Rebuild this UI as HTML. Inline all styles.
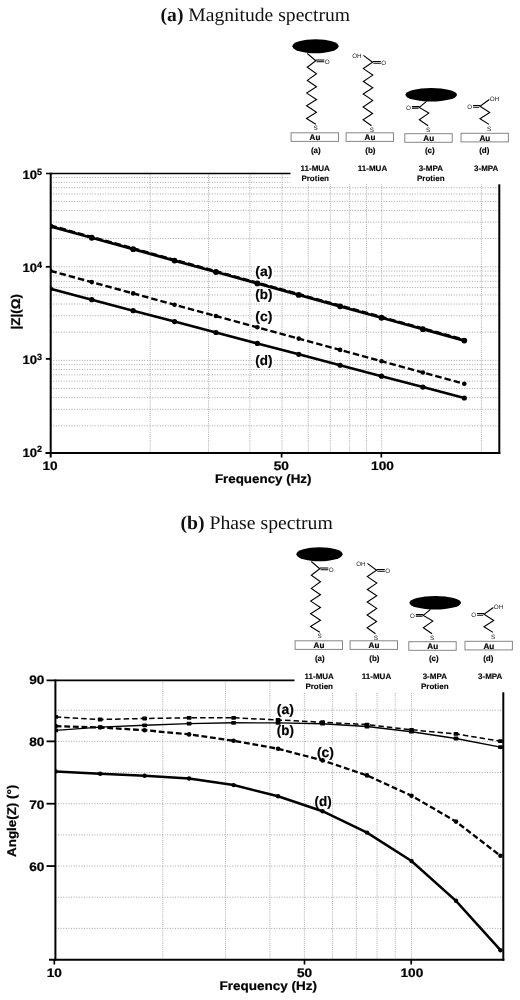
<!DOCTYPE html>
<html lang="en"><head><meta charset="utf-8"><title>Impedance spectra</title>
<style>html,body{margin:0;padding:0;background:#fff}body{width:520px;height:1000px;overflow:hidden}svg{display:block}text{font-family:"Liberation Sans",Arial,sans-serif;text-rendering:geometricPrecision}.t{font-family:"Liberation Serif","Times New Roman",serif}</style>
</head><body>
<svg width="520" height="1000" viewBox="0 0 520 1000">
<rect width="520" height="1000" fill="#fff"/>
<text class="t" x="160.6" y="21.2" font-size="19.3" fill="#111" textLength="189.5" lengthAdjust="spacingAndGlyphs"><tspan font-weight="bold">(a)</tspan> Magnitude spectrum</text>
<text class="t" x="180.5" y="529.2" font-size="19.3" fill="#111" textLength="152.3" lengthAdjust="spacingAndGlyphs"><tspan font-weight="bold">(b)</tspan> Phase spectrum</text>
<g stroke="#a8a8a8" stroke-width="1" stroke-dasharray="1 1.6" fill="none">
<line x1="50.70" y1="425.80" x2="499.30" y2="425.80"/>
<line x1="50.70" y1="409.32" x2="499.30" y2="409.32"/>
<line x1="50.70" y1="397.62" x2="499.30" y2="397.62"/>
<line x1="50.70" y1="388.55" x2="499.30" y2="388.55"/>
<line x1="50.70" y1="381.14" x2="499.30" y2="381.14"/>
<line x1="50.70" y1="374.88" x2="499.30" y2="374.88"/>
<line x1="50.70" y1="369.45" x2="499.30" y2="369.45"/>
<line x1="50.70" y1="364.66" x2="499.30" y2="364.66"/>
<line x1="50.70" y1="360.38" x2="499.30" y2="360.38"/>
<line x1="50.70" y1="332.21" x2="499.30" y2="332.21"/>
<line x1="50.70" y1="315.73" x2="499.30" y2="315.73"/>
<line x1="50.70" y1="304.03" x2="499.30" y2="304.03"/>
<line x1="50.70" y1="294.96" x2="499.30" y2="294.96"/>
<line x1="50.70" y1="287.55" x2="499.30" y2="287.55"/>
<line x1="50.70" y1="281.29" x2="499.30" y2="281.29"/>
<line x1="50.70" y1="275.86" x2="499.30" y2="275.86"/>
<line x1="50.70" y1="271.07" x2="499.30" y2="271.07"/>
<line x1="50.70" y1="266.79" x2="499.30" y2="266.79"/>
<line x1="50.70" y1="238.62" x2="499.30" y2="238.62"/>
<line x1="50.70" y1="222.14" x2="499.30" y2="222.14"/>
<line x1="50.70" y1="210.44" x2="499.30" y2="210.44"/>
<line x1="50.70" y1="201.37" x2="499.30" y2="201.37"/>
<line x1="50.70" y1="193.96" x2="499.30" y2="193.96"/>
<line x1="50.70" y1="187.70" x2="499.30" y2="187.70"/>
<line x1="50.70" y1="182.27" x2="499.30" y2="182.27"/>
<line x1="50.70" y1="177.48" x2="499.30" y2="177.48"/>
</g>
<g stroke="#aeaeae" stroke-width="1" stroke-dasharray="1 1.1" fill="none">
<line x1="150.20" y1="173.50" x2="150.20" y2="453.00"/>
<line x1="208.52" y1="173.50" x2="208.52" y2="453.00"/>
<line x1="249.90" y1="173.50" x2="249.90" y2="453.00"/>
<line x1="282.00" y1="173.50" x2="282.00" y2="453.00"/>
<line x1="308.22" y1="173.50" x2="308.22" y2="453.00"/>
<line x1="330.40" y1="173.50" x2="330.40" y2="453.00"/>
<line x1="349.60" y1="173.50" x2="349.60" y2="453.00"/>
<line x1="366.55" y1="173.50" x2="366.55" y2="453.00"/>
<line x1="381.70" y1="173.50" x2="381.70" y2="453.00"/>
<line x1="481.40" y1="173.50" x2="481.40" y2="453.00"/>
</g>
<rect x="254.8" y="264.6" width="18.2" height="14.4" fill="#fff"/>
<rect x="254.8" y="287.6" width="18.2" height="14.4" fill="#fff"/>
<rect x="254.8" y="309.5" width="18.2" height="14.4" fill="#fff"/>
<rect x="254.8" y="353.90000000000003" width="18.2" height="14.4" fill="#fff"/>
<clipPath id="c1"><rect x="50.7" y="173.5" width="448.6" height="279.5"/></clipPath><g clip-path="url(#c1)">
<polyline points="50.40,226.30 91.79,237.73 133.18,249.16 174.57,260.59 215.96,272.02 257.35,283.45 298.74,294.88 340.13,306.31 381.52,317.74 422.91,329.17 464.30,340.60" fill="none" stroke="#000" stroke-width="2.8"/>
<polyline points="50.40,225.50 91.79,236.93 133.18,248.36 174.57,259.79 215.96,271.22 257.35,282.65 298.74,294.08 340.13,305.51 381.52,316.94 422.91,328.37 464.30,339.80" fill="none" stroke="#000" stroke-width="2.4" stroke-dasharray="6.5 3"/>
<polyline points="50.40,270.80 91.79,282.10 133.18,293.40 174.57,304.70 215.96,316.00 257.35,327.30 298.74,338.60 340.13,349.90 381.52,361.20 422.91,372.50 464.30,383.80" fill="none" stroke="#000" stroke-width="2.4" stroke-dasharray="6.5 3"/>
<polyline points="50.40,288.80 91.79,299.72 133.18,310.64 174.57,321.56 215.96,332.48 257.35,343.40 298.74,354.32 340.13,365.24 381.52,376.16 422.91,387.08 464.30,398.00" fill="none" stroke="#000" stroke-width="2.6"/>
<circle cx="50.40" cy="226.30" r="2.9"/>
<circle cx="50.40" cy="270.80" r="2.3"/>
<circle cx="50.40" cy="288.80" r="2.6"/>
<circle cx="91.79" cy="237.73" r="2.9"/>
<circle cx="91.79" cy="282.10" r="2.3"/>
<circle cx="91.79" cy="299.72" r="2.6"/>
<circle cx="133.18" cy="249.16" r="2.9"/>
<circle cx="133.18" cy="293.40" r="2.3"/>
<circle cx="133.18" cy="310.64" r="2.6"/>
<circle cx="174.57" cy="260.59" r="2.9"/>
<circle cx="174.57" cy="304.70" r="2.3"/>
<circle cx="174.57" cy="321.56" r="2.6"/>
<circle cx="215.96" cy="272.02" r="2.9"/>
<circle cx="215.96" cy="316.00" r="2.3"/>
<circle cx="215.96" cy="332.48" r="2.6"/>
<circle cx="257.35" cy="283.45" r="2.9"/>
<circle cx="257.35" cy="327.30" r="2.3"/>
<circle cx="257.35" cy="343.40" r="2.6"/>
<circle cx="298.74" cy="294.88" r="2.9"/>
<circle cx="298.74" cy="338.60" r="2.3"/>
<circle cx="298.74" cy="354.32" r="2.6"/>
<circle cx="340.13" cy="306.31" r="2.9"/>
<circle cx="340.13" cy="349.90" r="2.3"/>
<circle cx="340.13" cy="365.24" r="2.6"/>
<circle cx="381.52" cy="317.74" r="2.9"/>
<circle cx="381.52" cy="361.20" r="2.3"/>
<circle cx="381.52" cy="376.16" r="2.6"/>
<circle cx="422.91" cy="329.17" r="2.9"/>
<circle cx="422.91" cy="372.50" r="2.3"/>
<circle cx="422.91" cy="387.08" r="2.6"/>
<circle cx="464.30" cy="340.60" r="2.9"/>
<circle cx="464.30" cy="383.80" r="2.3"/>
<circle cx="464.30" cy="398.00" r="2.6"/>
</g>
<g stroke="#000" fill="none">
<line x1="50.7" y1="172.65" x2="50.7" y2="457.5" stroke-width="2"/>
<line x1="499.3" y1="173.5" x2="499.3" y2="454.0" stroke-width="2"/>
<line x1="46" y1="173.5" x2="499.3" y2="173.5" stroke-width="1.7"/>
<line x1="45.5" y1="453.0" x2="500.3" y2="453.0" stroke-width="2"/>
<line x1="45.8" y1="358.90" x2="50.7" y2="358.90" stroke-width="1.8"/>
<line x1="45.8" y1="266.80" x2="50.7" y2="266.80" stroke-width="1.8"/>
<line x1="281.60" y1="453.0" x2="281.60" y2="457.5" stroke-width="1.7"/>
<line x1="381.30" y1="453.0" x2="381.30" y2="457.5" stroke-width="1.7"/>
</g>
<g transform="translate(0,0)">
<rect x="290.5" y="26" width="240" height="158.3" fill="#fff"/>
<ellipse cx="315.5" cy="46.2" rx="23.1" ry="7" fill="#000"/>
<ellipse cx="431.2" cy="94.8" rx="25.8" ry="6.8" fill="#000"/>
<g fill="none" stroke="#000" stroke-width="1.1" stroke-linejoin="miter" stroke-linecap="butt">
<polyline points="307.3,53.5 315.8,60.8 307.3,67.2 316.5,73.8 307.3,80.4 316.5,86.8 306.7,93.1 316.5,99.5 306.6,105.8 316.5,112.3 306.5,118.5 315.8,124.3"/>
<path d="M315.8 60 H324.3 M316.6 61.7 H324.3"/>
<polyline points="363.4,55.4 372.6,62.3 363.3,68.6 372.8,75.1 363.3,81.5 372.8,87.8 363.2,94 372.7,100.4 363.1,107 372.6,113.5 363.1,119.7 371.5,125.8"/>
<path d="M372.6 61.5 H380.8 M373.4 63.2 H380.8"/>
<polyline points="426.5,101.3 419.3,107.4 428.8,113.1 419.3,119.7 428.1,125.7"/>
<path d="M419.3 106.6 H411.9 M418.5 108.3 H411.9"/>
<polyline points="489.4,99.5 480,106.3 489.7,112.5 480,118.7 489,124.4"/>
<path d="M480 105.5 H473.1 M479.2 107.2 H473.1"/>
</g>
<g font-weight="normal" font-size="6.3" fill="#222" text-anchor="middle">
<text x="327.1" y="63.7">O</text>
<text x="315.6" y="130.1">S</text>
<text x="356.9" y="58.2">OH</text>
<text x="383.6" y="64.9">O</text>
<text x="371.8" y="131.6">S</text>
<text x="408.5" y="109.7">O</text>
<text x="428.1" y="131.8">S</text>
<text x="494.6" y="100.9">OH</text>
<text x="469.6" y="108.7">O</text>
<text x="489" y="131.1">S</text>
</g>
<rect x="291.1" y="132.8" width="47.4" height="8.6" fill="#fff" stroke="#858585" stroke-width="1"/>
<text x="315.0" y="140.0" font-size="8.1" font-weight="bold" text-anchor="middle" stroke="#000" stroke-width="0.2">Au</text>
<rect x="346.1" y="132.8" width="47.4" height="8.6" fill="#fff" stroke="#858585" stroke-width="1"/>
<text x="370.0" y="140.0" font-size="8.1" font-weight="bold" text-anchor="middle" stroke="#000" stroke-width="0.2">Au</text>
<rect x="404.8" y="133.7" width="47.4" height="8.6" fill="#fff" stroke="#858585" stroke-width="1"/>
<text x="428.7" y="140.89999999999998" font-size="8.1" font-weight="bold" text-anchor="middle" stroke="#000" stroke-width="0.2">Au</text>
<rect x="461.0" y="133.3" width="47.4" height="8.6" fill="#fff" stroke="#858585" stroke-width="1"/>
<text x="484.9" y="140.5" font-size="8.1" font-weight="bold" text-anchor="middle" stroke="#000" stroke-width="0.2">Au</text>
<text x="315.8" y="153.1" font-size="8" font-weight="bold" text-anchor="middle" stroke="#000" stroke-width="0.15">(a)</text>
<text x="370.4" y="153.1" font-size="8" font-weight="bold" text-anchor="middle" stroke="#000" stroke-width="0.15">(b)</text>
<text x="429.8" y="153.1" font-size="8" font-weight="bold" text-anchor="middle" stroke="#000" stroke-width="0.15">(c)</text>
<text x="484.3" y="153.1" font-size="8" font-weight="bold" text-anchor="middle" stroke="#000" stroke-width="0.15">(d)</text>
<text x="315.2" y="171.1" font-size="8" font-weight="bold" text-anchor="middle" stroke="#000" stroke-width="0.12">11-MUA</text>
<text x="315.2" y="180.7" font-size="8" font-weight="bold" text-anchor="middle" stroke="#000" stroke-width="0.12">Protien</text>
<text x="372.5" y="171.1" font-size="8" font-weight="bold" text-anchor="middle" stroke="#000" stroke-width="0.12">11-MUA</text>
<text x="430.8" y="171.1" font-size="8" font-weight="bold" text-anchor="middle" stroke="#000" stroke-width="0.12">3-MPA</text>
<text x="430.8" y="180.7" font-size="8" font-weight="bold" text-anchor="middle" stroke="#000" stroke-width="0.12">Protien</text>
<text x="486.2" y="171.1" font-size="8" font-weight="bold" text-anchor="middle" stroke="#000" stroke-width="0.12">3-MPA</text>
</g>
<text x="22.4" y="456.50" font-size="12.3" font-weight="bold" textLength="14.6" lengthAdjust="spacingAndGlyphs" stroke="#000" stroke-width="0.22">10</text>
<text x="37.0" y="452.40" font-size="9" font-weight="bold" stroke="#000" stroke-width="0.22">2</text>
<text x="22.4" y="363.70" font-size="12.3" font-weight="bold" textLength="14.6" lengthAdjust="spacingAndGlyphs" stroke="#000" stroke-width="0.22">10</text>
<text x="37.0" y="360.40" font-size="9" font-weight="bold" stroke="#000" stroke-width="0.22">3</text>
<text x="22.4" y="272.00" font-size="12.3" font-weight="bold" textLength="14.6" lengthAdjust="spacingAndGlyphs" stroke="#000" stroke-width="0.22">10</text>
<text x="37.0" y="268.40" font-size="9" font-weight="bold" stroke="#000" stroke-width="0.22">4</text>
<text x="22.4" y="178.80" font-size="12.3" font-weight="bold" textLength="14.6" lengthAdjust="spacingAndGlyphs" stroke="#000" stroke-width="0.22">10</text>
<text x="37.0" y="174.80" font-size="9" font-weight="bold" stroke="#000" stroke-width="0.22">5</text>
<text x="50.10" y="469.90" font-size="12.3" text-anchor="middle" font-weight="bold" fill="#000" textLength="15.2" lengthAdjust="spacingAndGlyphs" stroke="#000" stroke-width="0.22">10</text>
<text x="281.30" y="469.90" font-size="12.3" text-anchor="middle" font-weight="bold" fill="#000" textLength="15.2" lengthAdjust="spacingAndGlyphs" stroke="#000" stroke-width="0.22">50</text>
<text x="382.50" y="469.90" font-size="12.3" text-anchor="middle" font-weight="bold" fill="#000" textLength="22.8" lengthAdjust="spacingAndGlyphs" stroke="#000" stroke-width="0.22">100</text>
<text x="263.20" y="483.10" font-size="12.4" text-anchor="middle" font-weight="bold" fill="#000" textLength="96.6" lengthAdjust="spacingAndGlyphs" stroke="#000" stroke-width="0.22">Frequency (Hz)</text>
<text transform="translate(20.3,311.7) rotate(-90)" font-size="12.6" font-weight="bold" text-anchor="middle" textLength="35.6" lengthAdjust="spacingAndGlyphs" stroke="#000" stroke-width="0.22">|Z|(Ω)</text>
<text x="263.80" y="276.00" font-size="13.7" text-anchor="middle" font-weight="bold" fill="#000" textLength="17.1" lengthAdjust="spacingAndGlyphs" stroke="#000" stroke-width="0.2">(a)</text>
<text x="263.80" y="299.00" font-size="13.7" text-anchor="middle" font-weight="bold" fill="#000" textLength="17.1" lengthAdjust="spacingAndGlyphs" stroke="#000" stroke-width="0.2">(b)</text>
<text x="263.80" y="320.90" font-size="13.7" text-anchor="middle" font-weight="bold" fill="#000" textLength="17.1" lengthAdjust="spacingAndGlyphs" stroke="#000" stroke-width="0.2">(c)</text>
<text x="263.80" y="365.30" font-size="13.7" text-anchor="middle" font-weight="bold" fill="#000" textLength="17.1" lengthAdjust="spacingAndGlyphs" stroke="#000" stroke-width="0.2">(d)</text>
<g stroke="#a8a8a8" stroke-width="1" stroke-dasharray="1 1.6" fill="none">
<line x1="55.40" y1="928.39" x2="503.30" y2="928.39"/>
<line x1="55.40" y1="897.22" x2="503.30" y2="897.22"/>
<line x1="55.40" y1="866.05" x2="503.30" y2="866.05"/>
<line x1="55.40" y1="834.88" x2="503.30" y2="834.88"/>
<line x1="55.40" y1="803.71" x2="503.30" y2="803.71"/>
<line x1="55.40" y1="772.54" x2="503.30" y2="772.54"/>
<line x1="55.40" y1="741.37" x2="503.30" y2="741.37"/>
<line x1="55.40" y1="710.20" x2="503.30" y2="710.20"/>
</g>
<g stroke="#aeaeae" stroke-width="1" stroke-dasharray="1 1.1" fill="none">
<line x1="162.81" y1="680.40" x2="162.81" y2="959.70"/>
<line x1="225.46" y1="680.40" x2="225.46" y2="959.70"/>
<line x1="269.91" y1="680.40" x2="269.91" y2="959.70"/>
<line x1="304.39" y1="680.40" x2="304.39" y2="959.70"/>
<line x1="332.57" y1="680.40" x2="332.57" y2="959.70"/>
<line x1="356.39" y1="680.40" x2="356.39" y2="959.70"/>
<line x1="377.02" y1="680.40" x2="377.02" y2="959.70"/>
<line x1="395.22" y1="680.40" x2="395.22" y2="959.70"/>
<line x1="411.50" y1="680.40" x2="411.50" y2="959.70"/>
</g>
<rect x="276.29999999999995" y="703.0" width="18.2" height="14.2" fill="#fff"/>
<rect x="276.29999999999995" y="723.2" width="18.2" height="14.2" fill="#fff"/>
<rect x="316.4" y="745.6" width="18.2" height="14.2" fill="#fff"/>
<rect x="314.0" y="794.6" width="18.2" height="14.2" fill="#fff"/>
<clipPath id="c2"><rect x="55.4" y="680.4" width="448.90000000000003" height="279.30000000000007"/></clipPath><g clip-path="url(#c2)">
<polyline points="55.70,716.90 100.18,719.50 144.65,718.50 189.12,717.80 233.60,717.80 278.07,720.00 322.55,722.20 367.02,724.60 411.50,729.80 455.98,733.90 500.45,741.20" fill="none" stroke="#000" stroke-width="1.5" stroke-dasharray="5.5 3"/>
<polyline points="55.70,730.40 100.18,727.10 144.65,725.30 189.12,723.60 233.60,722.80 278.07,722.90 322.55,723.70 367.02,726.50 411.50,731.70 455.98,738.50 500.45,747.10" fill="none" stroke="#000" stroke-width="1.4"/>
<polyline points="55.70,726.10 100.18,727.50 144.65,730.20 189.12,734.40 233.60,740.70 278.07,748.80 322.55,760.40 367.02,775.40 411.50,795.70 455.98,821.60 500.45,855.80" fill="none" stroke="#000" stroke-width="2.3" stroke-dasharray="5.8 2.8"/>
<polyline points="55.70,771.40 100.18,773.80 144.65,775.70 189.12,778.50 233.60,785.10 278.07,796.20 322.55,811.20 367.02,832.60 411.50,861.00 455.98,900.80 500.45,950.20" fill="none" stroke="#000" stroke-width="2.5"/>
<rect x="53.30" y="715.00" width="4.8" height="3.8" rx="0.9"/>
<rect x="53.30" y="728.50" width="4.8" height="3.8" rx="0.9"/>
<circle cx="55.70" cy="726.10" r="2.3"/>
<circle cx="55.70" cy="771.40" r="2.2"/>
<rect x="97.78" y="717.60" width="4.8" height="3.8" rx="0.9"/>
<rect x="97.78" y="725.20" width="4.8" height="3.8" rx="0.9"/>
<circle cx="100.18" cy="727.50" r="2.3"/>
<circle cx="100.18" cy="773.80" r="2.2"/>
<rect x="142.25" y="716.60" width="4.8" height="3.8" rx="0.9"/>
<rect x="142.25" y="723.40" width="4.8" height="3.8" rx="0.9"/>
<circle cx="144.65" cy="730.20" r="2.3"/>
<circle cx="144.65" cy="775.70" r="2.2"/>
<rect x="186.72" y="715.90" width="4.8" height="3.8" rx="0.9"/>
<rect x="186.72" y="721.70" width="4.8" height="3.8" rx="0.9"/>
<circle cx="189.12" cy="734.40" r="2.3"/>
<circle cx="189.12" cy="778.50" r="2.2"/>
<rect x="231.20" y="715.90" width="4.8" height="3.8" rx="0.9"/>
<rect x="231.20" y="720.90" width="4.8" height="3.8" rx="0.9"/>
<circle cx="233.60" cy="740.70" r="2.3"/>
<circle cx="233.60" cy="785.10" r="2.2"/>
<rect x="275.68" y="718.10" width="4.8" height="3.8" rx="0.9"/>
<rect x="275.68" y="721.00" width="4.8" height="3.8" rx="0.9"/>
<circle cx="278.07" cy="748.80" r="2.3"/>
<circle cx="278.07" cy="796.20" r="2.2"/>
<rect x="320.15" y="720.30" width="4.8" height="3.8" rx="0.9"/>
<rect x="320.15" y="721.80" width="4.8" height="3.8" rx="0.9"/>
<circle cx="322.55" cy="760.40" r="2.3"/>
<circle cx="322.55" cy="811.20" r="2.2"/>
<rect x="364.62" y="722.70" width="4.8" height="3.8" rx="0.9"/>
<rect x="364.62" y="724.60" width="4.8" height="3.8" rx="0.9"/>
<circle cx="367.02" cy="775.40" r="2.3"/>
<circle cx="367.02" cy="832.60" r="2.2"/>
<rect x="409.10" y="727.90" width="4.8" height="3.8" rx="0.9"/>
<rect x="409.10" y="729.80" width="4.8" height="3.8" rx="0.9"/>
<circle cx="411.50" cy="795.70" r="2.3"/>
<circle cx="411.50" cy="861.00" r="2.2"/>
<rect x="453.58" y="732.00" width="4.8" height="3.8" rx="0.9"/>
<rect x="453.58" y="736.60" width="4.8" height="3.8" rx="0.9"/>
<circle cx="455.98" cy="821.60" r="2.3"/>
<circle cx="455.98" cy="900.80" r="2.2"/>
<rect x="498.05" y="739.30" width="4.8" height="3.8" rx="0.9"/>
<rect x="498.05" y="745.20" width="4.8" height="3.8" rx="0.9"/>
<circle cx="500.45" cy="855.80" r="2.3"/>
<circle cx="500.45" cy="950.20" r="2.2"/>
</g>
<g stroke="#000" fill="none">
<line x1="55.4" y1="679.5" x2="55.4" y2="960.7" stroke-width="2"/>
<line x1="503.3" y1="680.4" x2="503.3" y2="960.7" stroke-width="2"/>
<line x1="46.5" y1="680.4" x2="503.3" y2="680.4" stroke-width="1.8"/>
<line x1="49" y1="959.7" x2="504.3" y2="959.7" stroke-width="2"/>
<line x1="46.5" y1="866.05" x2="55.4" y2="866.05" stroke-width="1.8"/>
<line x1="46.5" y1="803.71" x2="55.4" y2="803.71" stroke-width="1.8"/>
<line x1="46.5" y1="741.37" x2="55.4" y2="741.37" stroke-width="1.8"/>
<line x1="54.30" y1="959.7" x2="54.30" y2="964.5" stroke-width="1.7"/>
<line x1="304.50" y1="959.7" x2="304.50" y2="964.5" stroke-width="1.7"/>
<line x1="411.20" y1="959.7" x2="411.20" y2="964.5" stroke-width="1.7"/>
</g>
<g transform="translate(4,508)">
<rect x="290.5" y="26" width="240" height="158.3" fill="#fff"/>
<ellipse cx="315.5" cy="46.2" rx="23.1" ry="7" fill="#000"/>
<ellipse cx="431.2" cy="94.8" rx="25.8" ry="6.8" fill="#000"/>
<g fill="none" stroke="#000" stroke-width="1.1" stroke-linejoin="miter" stroke-linecap="butt">
<polyline points="307.3,53.5 315.8,60.8 307.3,67.2 316.5,73.8 307.3,80.4 316.5,86.8 306.7,93.1 316.5,99.5 306.6,105.8 316.5,112.3 306.5,118.5 315.8,124.3"/>
<path d="M315.8 60 H324.3 M316.6 61.7 H324.3"/>
<polyline points="363.4,55.4 372.6,62.3 363.3,68.6 372.8,75.1 363.3,81.5 372.8,87.8 363.2,94 372.7,100.4 363.1,107 372.6,113.5 363.1,119.7 371.5,125.8"/>
<path d="M372.6 61.5 H380.8 M373.4 63.2 H380.8"/>
<polyline points="426.5,101.3 419.3,107.4 428.8,113.1 419.3,119.7 428.1,125.7"/>
<path d="M419.3 106.6 H411.9 M418.5 108.3 H411.9"/>
<polyline points="489.4,99.5 480,106.3 489.7,112.5 480,118.7 489,124.4"/>
<path d="M480 105.5 H473.1 M479.2 107.2 H473.1"/>
</g>
<g font-weight="normal" font-size="6.3" fill="#222" text-anchor="middle">
<text x="327.1" y="63.7">O</text>
<text x="315.6" y="130.1">S</text>
<text x="356.9" y="58.2">OH</text>
<text x="383.6" y="64.9">O</text>
<text x="371.8" y="131.6">S</text>
<text x="408.5" y="109.7">O</text>
<text x="428.1" y="131.8">S</text>
<text x="494.6" y="100.9">OH</text>
<text x="469.6" y="108.7">O</text>
<text x="489" y="131.1">S</text>
</g>
<rect x="291.1" y="132.8" width="47.4" height="8.6" fill="#fff" stroke="#858585" stroke-width="1"/>
<text x="315.0" y="140.0" font-size="8.1" font-weight="bold" text-anchor="middle" stroke="#000" stroke-width="0.2">Au</text>
<rect x="346.1" y="132.8" width="47.4" height="8.6" fill="#fff" stroke="#858585" stroke-width="1"/>
<text x="370.0" y="140.0" font-size="8.1" font-weight="bold" text-anchor="middle" stroke="#000" stroke-width="0.2">Au</text>
<rect x="404.8" y="133.7" width="47.4" height="8.6" fill="#fff" stroke="#858585" stroke-width="1"/>
<text x="428.7" y="140.89999999999998" font-size="8.1" font-weight="bold" text-anchor="middle" stroke="#000" stroke-width="0.2">Au</text>
<rect x="461.0" y="133.3" width="47.4" height="8.6" fill="#fff" stroke="#858585" stroke-width="1"/>
<text x="484.9" y="140.5" font-size="8.1" font-weight="bold" text-anchor="middle" stroke="#000" stroke-width="0.2">Au</text>
<text x="315.8" y="153.1" font-size="8" font-weight="bold" text-anchor="middle" stroke="#000" stroke-width="0.15">(a)</text>
<text x="370.4" y="153.1" font-size="8" font-weight="bold" text-anchor="middle" stroke="#000" stroke-width="0.15">(b)</text>
<text x="429.8" y="153.1" font-size="8" font-weight="bold" text-anchor="middle" stroke="#000" stroke-width="0.15">(c)</text>
<text x="484.3" y="153.1" font-size="8" font-weight="bold" text-anchor="middle" stroke="#000" stroke-width="0.15">(d)</text>
<text x="315.2" y="171.1" font-size="8" font-weight="bold" text-anchor="middle" stroke="#000" stroke-width="0.12">11-MUA</text>
<text x="315.2" y="180.7" font-size="8" font-weight="bold" text-anchor="middle" stroke="#000" stroke-width="0.12">Protien</text>
<text x="372.5" y="171.1" font-size="8" font-weight="bold" text-anchor="middle" stroke="#000" stroke-width="0.12">11-MUA</text>
<text x="430.8" y="171.1" font-size="8" font-weight="bold" text-anchor="middle" stroke="#000" stroke-width="0.12">3-MPA</text>
<text x="430.8" y="180.7" font-size="8" font-weight="bold" text-anchor="middle" stroke="#000" stroke-width="0.12">Protien</text>
<text x="486.2" y="171.1" font-size="8" font-weight="bold" text-anchor="middle" stroke="#000" stroke-width="0.12">3-MPA</text>
</g>
<text x="44.40" y="870.95" font-size="12.3" text-anchor="end" font-weight="bold" fill="#000" textLength="15.2" lengthAdjust="spacingAndGlyphs" stroke="#000" stroke-width="0.22">60</text>
<text x="44.40" y="808.61" font-size="12.3" text-anchor="end" font-weight="bold" fill="#000" textLength="15.2" lengthAdjust="spacingAndGlyphs" stroke="#000" stroke-width="0.22">70</text>
<text x="44.40" y="746.27" font-size="12.3" text-anchor="end" font-weight="bold" fill="#000" textLength="15.2" lengthAdjust="spacingAndGlyphs" stroke="#000" stroke-width="0.22">80</text>
<text x="44.40" y="683.93" font-size="12.3" text-anchor="end" font-weight="bold" fill="#000" textLength="15.2" lengthAdjust="spacingAndGlyphs" stroke="#000" stroke-width="0.22">90</text>
<text x="54.30" y="977.00" font-size="12.3" text-anchor="middle" font-weight="bold" fill="#000" textLength="15.2" lengthAdjust="spacingAndGlyphs" stroke="#000" stroke-width="0.22">10</text>
<text x="304.60" y="977.00" font-size="12.3" text-anchor="middle" font-weight="bold" fill="#000" textLength="15.2" lengthAdjust="spacingAndGlyphs" stroke="#000" stroke-width="0.22">50</text>
<text x="411.90" y="977.00" font-size="12.3" text-anchor="middle" font-weight="bold" fill="#000" textLength="22.8" lengthAdjust="spacingAndGlyphs" stroke="#000" stroke-width="0.22">100</text>
<text x="268.20" y="989.50" font-size="12.4" text-anchor="middle" font-weight="bold" fill="#000" textLength="97.6" lengthAdjust="spacingAndGlyphs" stroke="#000" stroke-width="0.22">Frequency (Hz)</text>
<text transform="translate(16.3,820.8) rotate(-90)" font-size="12.6" font-weight="bold" text-anchor="middle" textLength="72.2" lengthAdjust="spacingAndGlyphs" stroke="#000" stroke-width="0.22">Angle(Z) (°)</text>
<text x="285.40" y="714.40" font-size="13.8" text-anchor="middle" font-weight="bold" fill="#000" textLength="17.1" lengthAdjust="spacingAndGlyphs" stroke="#000" stroke-width="0.2">(a)</text>
<text x="285.40" y="734.60" font-size="13.8" text-anchor="middle" font-weight="bold" fill="#000" textLength="17.1" lengthAdjust="spacingAndGlyphs" stroke="#000" stroke-width="0.2">(b)</text>
<text x="325.50" y="757.00" font-size="13.8" text-anchor="middle" font-weight="bold" fill="#000" textLength="17.1" lengthAdjust="spacingAndGlyphs" stroke="#000" stroke-width="0.2">(c)</text>
<text x="323.10" y="806.00" font-size="13.8" text-anchor="middle" font-weight="bold" fill="#000" textLength="17.1" lengthAdjust="spacingAndGlyphs" stroke="#000" stroke-width="0.2">(d)</text>
</svg></body></html>
